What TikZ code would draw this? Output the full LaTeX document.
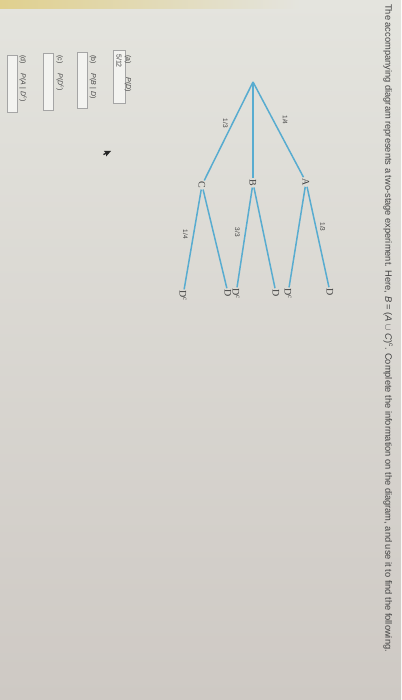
\documentclass[tikz,border=0pt]{standalone}
\usepackage{fontspec}
\setmainfont{Liberation Sans}
\newfontfamily\treefont{Liberation Serif}
\definecolor{branch}{RGB}{88,172,208}
\definecolor{ink}{RGB}{66,66,66}
\definecolor{paper}{RGB}{228,228,222}
\definecolor{paperlow}{RGB}{206,201,196}
\definecolor{stripe}{RGB}{224,208,142}
\definecolor{boxline}{RGB}{165,165,165}
\newcommand{\qfont}{\fontsize{7}{8}\selectfont}
\begin{document}
\begin{tikzpicture}[x=1pt,y=-1pt,
        turned/.style={rotate=-90,text=ink,inner sep=1pt},
        event/.style={turned,font=\treefont\fontsize{10}{10}\selectfont},
        prob/.style={turned,font=\fontsize{6.5}{7}\selectfont},
        branchline/.style={draw=branch,line width=1.5pt},
        answerbox/.style={draw=boxline,fill=white!55!paper,line width=0.6pt}]
        %% screen
        \useasboundingbox (0,0) rectangle (401,700);
        \shade[top color=paper,bottom color=paperlow] (0,0) rectangle (401,700);
        \shade[left color=stripe,right color=paper] (0,0) rectangle (300,9);
        %% heading
        \node[turned,anchor=west,font=\fontsize{9.3}{10}\selectfont] (title) at (388,3)
            {The accompanying diagram represents a two-stage experiment. Here, \textit{B} = (\textit{A} $\cup$ \textit{C})\textsuperscript{c}. Complete the information on the diagram, and use it to find the following.};
        %% tree
        \coordinate (root) at (253,82);
        \node[event] (A) at (306,182) {A};
        \node[event] (B) at (253,183) {B};
        \node[event] (C) at (202,185) {C};
        \node[event] (AD) at (330,292) {D};
        \node[event] (ADc) at (288,294) {D\textsuperscript{c}};
        \node[event] (BD) at (276,293) {D};
        \node[event] (BDc) at (236,294) {D\textsuperscript{c}};
        \node[event] (CD) at (228,293) {D};
        \node[event] (CDc) at (183,296) {D\textsuperscript{c}};
        \draw[branchline] (root) -- node[xshift=12,prob,pos=0.4] {1/4} (A);
        \draw[branchline] (root) -- (B);
        \draw[branchline] (root) -- node[xshift=-7,prob,pos=0.42] {1/3} (C);
        \draw[branchline] (A) -- node[xshift=7,prob,pos=0.4] {1/3} (AD);
        \draw[branchline] (A) -- (ADc);
        \draw[branchline] (B) -- (BD);
        \draw[branchline] (B) -- node[xshift=-8,prob,pos=0.45] {3/3} (BDc);
        \draw[branchline] (C) -- (CD);
        \draw[branchline] (C) -- node[xshift=-8,prob,pos=0.45] {1/4} (CDc);
        %% questions
        \draw[answerbox] (113,50) rectangle (125,103);
        \draw[answerbox] (77,52) rectangle (87,108);
        \draw[answerbox] (43,53) rectangle (53,110);
        \draw[answerbox] (7,55) rectangle (17,112);
        \node[turned,anchor=west,font=\qfont] (qa) at (128,54) {(a)\hspace{14pt}\textit{P}(\textit{D})};
        \node[turned,anchor=west,font=\qfont] (ansa) at (119,53) {5/12};
        \node[turned,anchor=west,font=\qfont] (qb) at (93,54) {(b)\hspace{10pt}\textit{P}(\textit{B} | \textit{D})};
        \node[turned,anchor=west,font=\qfont] (qc) at (60,54) {(c)\hspace{10pt}\textit{P}(\textit{D}\textsuperscript{c})};
        \node[turned,anchor=west,font=\qfont] (qd) at (23,54) {(d)\hspace{10pt}\textit{P}(\textit{A} | \textit{D}\textsuperscript{c})};
        %% pointer
        \fill[black!85] (111,151) -- ++(-7.2,0) -- ++(1.8,1.8) -- ++(-2.4,1.2) -- ++(0.6,1.2)
            -- ++(2.4,-1.2) -- ++(0,2.4) -- cycle;
    \end{tikzpicture}
\end{document}
